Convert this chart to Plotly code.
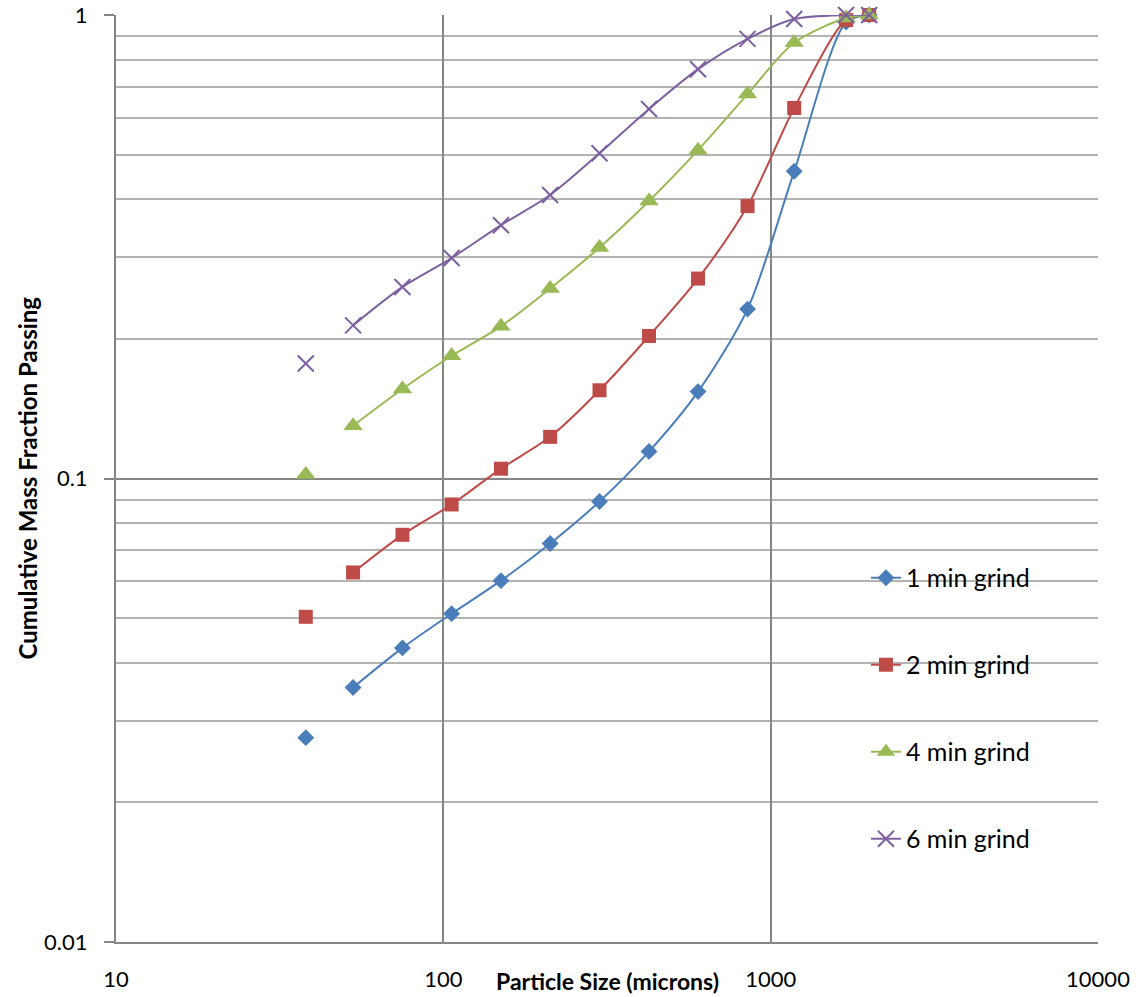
import plotly.graph_objects as go

sizes = [38, 53, 75, 106, 150, 212, 300, 425, 600, 850, 1180, 1700, 2000]
grind_1min = [0.0276, 0.0354, 0.0431, 0.0511, 0.0602, 0.0724, 0.0892, 0.1144, 0.154, 0.232, 0.460, 0.965, 1.0]
grind_2min = [0.0503, 0.0627, 0.0756, 0.0879, 0.105, 0.123, 0.155, 0.203, 0.270, 0.387, 0.630, 0.975, 1.0]
grind_4min = [0.102, 0.130, 0.156, 0.184, 0.213, 0.257, 0.315, 0.397, 0.511, 0.675, 0.872, 0.985, 1.0]
grind_6min = [0.177, 0.214, 0.259, 0.299, 0.352, 0.409, 0.503, 0.627, 0.764, 0.888, 0.98, 1.0, 1.0]

series_names = ["1 min grind", "2 min grind", "4 min grind", "6 min grind"]
series_values = [grind_1min, grind_2min, grind_4min, grind_6min]
colors = ["#4A7EBB", "#BE4B48", "#98B954", "#7D60A0"]
symbols = ["diamond", "square", "triangle-up", "x-thin-open"]
msizes = [13, 14, 17, 16]

y_major = [0.01, 0.1, 1]
y_major_text = ["0.01", "0.1", "1"]
y_minor = [m * d for d in (0.01, 0.1) for m in range(2, 10)]
x_major = [10, 100, 1000, 10000]
x_major_text = ["10", "100", "1000", "10000"]

FONT = "Lato"
fig = go.Figure()
for i, (name, vals, col, sym, ms) in enumerate(zip(series_names, series_values, colors, symbols, msizes)):
    marker = dict(symbol=sym, size=ms, color=col, line=dict(color=col, width=2 if "x" in sym else 0))
    # isolated first point
    fig.add_trace(go.Scatter(
        x=sizes[:1], y=vals[:1], mode="markers", marker=marker,
        legendgroup=name, showlegend=False, cliponaxis=False, name=name))
    fig.add_trace(go.Scatter(
        x=sizes[1:], y=vals[1:], mode="lines+markers", name=name,
        line=dict(color=col, width=2, shape="spline", smoothing=0.8),
        marker=marker, legendgroup=name, cliponaxis=False))

fig.update_layout(
    width=1138, height=997,
    margin=dict(l=116, r=40, t=15, b=55),
    paper_bgcolor="white", plot_bgcolor="white",
    font=dict(family=FONT, size=22, color="black"),
    showlegend=True,
    legend=dict(x=0.7637, y=0.4175, xanchor="left", yanchor="top",
                bgcolor="rgba(0,0,0,0)", tracegroupgap=51.5,
                font=dict(family=FONT, size=25, color="black")),
    xaxis=dict(type="log", range=[1, 4], tickvals=x_major, ticktext=x_major_text,
               showgrid=True, gridcolor="#868686", gridwidth=2,
               showline=True, linecolor="#868686", linewidth=2, mirror=False,
               ticks="", ticklabelstandoff=17, zeroline=False, automargin=False,
               tickfont=dict(family=FONT, size=22)),
    yaxis=dict(type="log", range=[-2, 0], tickvals=y_major, ticktext=y_major_text,
               showgrid=True, gridcolor="#868686", gridwidth=2,
               showline=True, linecolor="#868686", linewidth=2,
               ticks="outside", ticklen=10, tickwidth=2, tickcolor="#868686",
               ticklabelstandoff=12, zeroline=False, automargin=False,
               minor=dict(tickvals=y_minor, showgrid=True, gridcolor="#B3B3B3", gridwidth=2, ticks=""),
               tickfont=dict(family=FONT, size=22)),
    annotations=[
        dict(text="<b>Particle Size (microns)</b>", xref="paper", yref="paper",
             x=0.5, y=0, xanchor="center", yanchor="middle", yshift=-39, showarrow=False,
             borderpad=0, font=dict(family=FONT, size=23, color="black")),
        dict(text="<b>Cumulative Mass Fraction Passing</b>", xref="paper", yref="paper",
             x=0, y=0.5, xanchor="center", yanchor="middle", xshift=-89, textangle=-90,
             showarrow=False, font=dict(family=FONT, size=24, color="black")),
    ],
)

fig.write_html("out.html")
